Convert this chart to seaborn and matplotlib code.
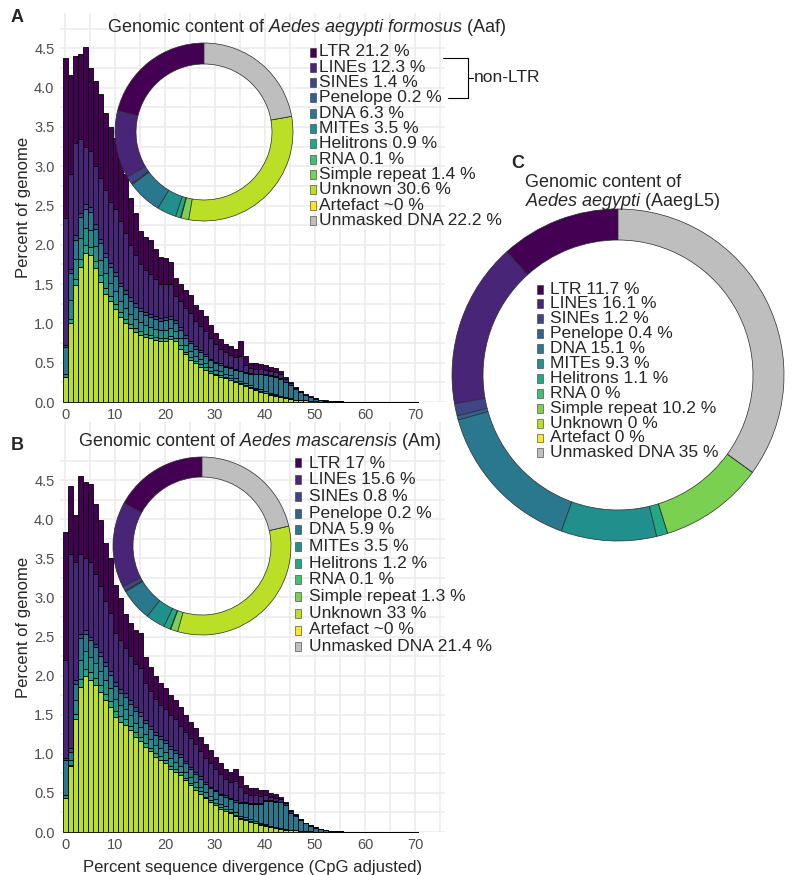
import numpy as np
import pandas as pd
import matplotlib
matplotlib.use("Agg")
import matplotlib.pyplot as plt
from matplotlib.patches import Rectangle
from matplotlib.lines import Line2D
import seaborn as sns

### Data
divergence = list(range(71))

classes = ["LTR", "LINEs", "SINEs", "Penelope", "DNA", "MITEs", "Helitrons",
           "RNA", "Simple repeat", "Unknown", "Artefact", "Unmasked DNA"]
class_colors = ["#440154", "#482576", "#414487", "#35608D", "#2A788E", "#21908C",
                "#22A884", "#43BF71", "#7AD151", "#BBDF27", "#FDE725", "#BEBEBE"]

# genome share (%) per class, donut rings
pct_aaf = [21.2, 12.3, 1.4, 0.2, 6.3, 3.5, 0.9, 0.1, 1.4, 30.6, 0.0, 22.2]
pct_aaf_txt = ["21.2", "12.3", "1.4", "0.2", "6.3", "3.5", "0.9", "0.1", "1.4", "30.6", "~0", "22.2"]
pct_am = [17.0, 15.6, 0.8, 0.2, 5.9, 3.5, 1.2, 0.1, 1.3, 33.0, 0.0, 21.4]
pct_am_txt = ["17", "15.6", "0.8", "0.2", "5.9", "3.5", "1.2", "0.1", "1.3", "33", "~0", "21.4"]
pct_l5 = [11.7, 16.1, 1.2, 0.4, 15.1, 9.3, 1.1, 0.0, 10.2, 0.0, 0.0, 35.0]
pct_l5_txt = ["11.7", "16.1", "1.2", "0.4", "15.1", "9.3", "1.1", "0", "10.2", "0", "0", "35"]

# repeat landscape, Aaf (percent of genome per divergence bin)
unknown_a = [0.32, 1.00, 1.49, 1.72, 1.90, 1.87, 1.70, 1.53, 1.37, 1.28,
             1.18, 1.08, 1.00, 0.94, 0.89, 0.85, 0.83, 0.81, 0.79, 0.77,
             0.78, 0.80, 0.77, 0.68, 0.61, 0.54, 0.49, 0.45, 0.41, 0.37,
             0.34, 0.32, 0.30, 0.28, 0.26, 0.23, 0.20, 0.18, 0.15, 0.13,
             0.11, 0.09, 0.08, 0.06, 0.05, 0.04, 0.03, 0.025, 0.02, 0.012,
             0.008, 0.005, 0.003, 0.002, 0.001, 0.001] + [0.0] * 15
helitron_a = [0.00, 0.05, 0.08, 0.10, 0.10, 0.10, 0.09, 0.08, 0.08, 0.07,
              0.07, 0.06, 0.06, 0.05, 0.05, 0.05, 0.04, 0.04, 0.04, 0.04,
              0.04, 0.04, 0.04, 0.04, 0.03, 0.03, 0.03, 0.03, 0.03, 0.02,
              0.02, 0.02, 0.02, 0.02, 0.01, 0.01, 0.01, 0.01, 0.01, 0.01,
              0.01, 0.01, 0.01] + [0.0] * 28
mites_a = [0.03, 0.25, 0.25, 0.27, 0.22, 0.22, 0.20, 0.20, 0.19, 0.17,
           0.16, 0.15, 0.14, 0.13, 0.12, 0.12, 0.11, 0.10, 0.10, 0.10,
           0.10, 0.10, 0.09, 0.09, 0.08, 0.08, 0.07, 0.07, 0.06, 0.06,
           0.05, 0.05, 0.04, 0.04, 0.04, 0.03, 0.03, 0.02, 0.02, 0.02,
           0.02, 0.01, 0.01, 0.01, 0.01, 0.01] + [0.0] * 25
dna_a = [0.35, 0.34, 0.24, 0.26, 0.24, 0.23, 0.21, 0.21, 0.21, 0.20,
         0.19, 0.18, 0.17, 0.16, 0.15, 0.14, 0.13, 0.13, 0.12, 0.12,
         0.12, 0.12, 0.11, 0.11, 0.10, 0.10, 0.09, 0.09, 0.09, 0.08,
         0.08, 0.08, 0.08, 0.09, 0.10, 0.12, 0.13, 0.15, 0.17, 0.19,
         0.20, 0.22, 0.22, 0.22, 0.20, 0.17, 0.14, 0.10, 0.07, 0.05,
         0.035, 0.02, 0.013, 0.008, 0.007, 0.005, 0.004, 0.004, 0.004, 0.004,
         0.004, 0.003, 0.003, 0.003, 0.003, 0.003, 0.002, 0.002, 0.002, 0.002,
         0.002]
sines_a = [0.02, 0.05, 0.06, 0.06, 0.06, 0.06, 0.06, 0.06, 0.05, 0.05,
           0.05, 0.05, 0.05, 0.05, 0.05, 0.04, 0.04, 0.04, 0.04, 0.04,
           0.04, 0.04, 0.03, 0.03, 0.03, 0.03, 0.03, 0.02, 0.02, 0.02,
           0.02, 0.02, 0.02, 0.01, 0.01, 0.01, 0.01, 0.01, 0.01, 0.01,
           0.01, 0.01, 0.01, 0.01] + [0.0] * 27
lines_a = [1.62, 1.21, 1.18, 0.94, 0.73, 0.72, 0.74, 0.77, 0.80, 0.78,
           0.80, 0.78, 0.73, 0.67, 0.61, 0.55, 0.53, 0.51, 0.47, 0.43,
           0.42, 0.40, 0.31, 0.33, 0.35, 0.35, 0.32, 0.31, 0.29, 0.27,
           0.23, 0.19, 0.17, 0.16, 0.15, 0.18, 0.09, 0.06, 0.06, 0.06,
           0.06, 0.05, 0.05, 0.05, 0.03, 0.02, 0.01, 0.01, 0.005, 0.004,
           0.004, 0.003, 0.002, 0.001, 0.001, 0.001] + [0.0] * 15
ltr_a = [2.04, 1.26, 1.10, 1.08, 1.27, 1.05, 1.08, 1.07, 0.98, 0.95,
         0.91, 0.85, 0.75, 0.60, 0.53, 0.43, 0.42, 0.43, 0.39, 0.35,
         0.33, 0.28, 0.23, 0.22, 0.22, 0.23, 0.20, 0.20, 0.20, 0.16,
         0.14, 0.12, 0.11, 0.11, 0.11, 0.19, 0.11, 0.07, 0.07, 0.06,
         0.06, 0.06, 0.05, 0.04, 0.03, 0.01, 0.01, 0.005, 0.005, 0.004,
         0.003, 0.002, 0.002, 0.001, 0.001, 0.001] + [0.0] * 15

# repeat landscape, Am
unknown_b = [0.43, 0.84, 1.45, 1.86, 1.99, 1.94, 1.88, 1.79, 1.69, 1.60,
             1.47, 1.41, 1.37, 1.30, 1.22, 1.16, 1.09, 1.03, 0.96, 0.92,
             0.88, 0.81, 0.77, 0.73, 0.66, 0.60, 0.54, 0.49, 0.43, 0.39,
             0.35, 0.30, 0.27, 0.24, 0.21, 0.17, 0.15, 0.13, 0.11, 0.09,
             0.077, 0.064, 0.05, 0.04, 0.03, 0.025, 0.02, 0.015, 0.01, 0.008,
             0.005, 0.003, 0.002, 0.001, 0.001] + [0.0] * 16
helitron_b = [0.00, 0.02, 0.06, 0.10, 0.10, 0.10, 0.09, 0.09, 0.08, 0.08,
              0.08, 0.07, 0.07, 0.06, 0.06, 0.06, 0.05, 0.05, 0.05, 0.05,
              0.04, 0.04, 0.04, 0.04, 0.03, 0.03, 0.03, 0.03, 0.02, 0.02,
              0.02, 0.02, 0.02, 0.01, 0.01, 0.01, 0.01, 0.01, 0.01, 0.01,
              0.01] + [0.0] * 30
mites_b = [0.04, 0.06, 0.18, 0.24, 0.22, 0.20, 0.19, 0.18, 0.17, 0.16,
           0.15, 0.14, 0.13, 0.13, 0.12, 0.12, 0.11, 0.11, 0.10, 0.10,
           0.10, 0.09, 0.09, 0.08, 0.08, 0.07, 0.07, 0.06, 0.06, 0.05,
           0.05, 0.04, 0.04, 0.04, 0.03, 0.03, 0.03, 0.02, 0.02, 0.02,
           0.01, 0.01, 0.01, 0.01, 0.01] + [0.0] * 26
dna_b = [0.45, 0.10, 0.20, 0.28, 0.22, 0.21, 0.20, 0.19, 0.18, 0.17,
         0.17, 0.16, 0.16, 0.15, 0.15, 0.14, 0.14, 0.13, 0.13, 0.12,
         0.12, 0.12, 0.11, 0.11, 0.11, 0.10, 0.10, 0.10, 0.10, 0.10,
         0.10, 0.11, 0.12, 0.13, 0.14, 0.16, 0.18, 0.20, 0.22, 0.24,
         0.30, 0.32, 0.33, 0.33, 0.30, 0.22, 0.19, 0.14, 0.10, 0.075,
         0.05, 0.033, 0.02, 0.013, 0.008, 0.007, 0.005, 0.004, 0.004, 0.004,
         0.003, 0.003, 0.003, 0.003, 0.002, 0.002, 0.002, 0.002, 0.002, 0.002,
         0.002]
sines_b = [0.02, 0.05, 0.05, 0.05, 0.05, 0.05, 0.05, 0.05, 0.05, 0.05,
           0.05, 0.05, 0.05, 0.05, 0.05, 0.05, 0.04, 0.04, 0.04, 0.04,
           0.04, 0.04, 0.04, 0.04, 0.03, 0.03, 0.03, 0.03, 0.03, 0.02,
           0.02, 0.02, 0.02, 0.02, 0.02, 0.01, 0.01, 0.01, 0.01, 0.01,
           0.01, 0.01, 0.01, 0.01] + [0.0] * 27
lines_b = [1.26, 2.48, 1.51, 1.02, 0.92, 0.95, 0.89, 0.85, 0.78, 0.74,
           0.63, 0.62, 0.57, 0.56, 0.55, 0.57, 0.47, 0.44, 0.42, 0.40,
           0.39, 0.40, 0.39, 0.36, 0.37, 0.37, 0.35, 0.32, 0.31, 0.30,
           0.27, 0.25, 0.21, 0.20, 0.24, 0.19, 0.12, 0.10, 0.10, 0.09,
           0.06, 0.04, 0.04, 0.03, 0.03, 0.02, 0.01, 0.01, 0.005, 0.004,
           0.003, 0.002, 0.002, 0.001, 0.001] + [0.0] * 16
ltr_b = [1.64, 0.87, 0.60, 1.00, 0.98, 1.00, 0.90, 0.84, 0.74, 0.71,
         0.61, 0.54, 0.44, 0.42, 0.43, 0.45, 0.34, 0.31, 0.29, 0.27,
         0.27, 0.25, 0.25, 0.24, 0.22, 0.21, 0.21, 0.19, 0.18, 0.17,
         0.15, 0.14, 0.13, 0.13, 0.16, 0.14, 0.10, 0.09, 0.09, 0.08,
         0.07, 0.05, 0.05, 0.03, 0.02, 0.015, 0.01, 0.005, 0.005, 0.003,
         0.002, 0.002, 0.002, 0.002, 0.001] + [0.0] * 16

# top of stack first: seaborn puts the last hue level at the bottom
stack_order = ["LTR", "LINEs", "SINEs", "DNA", "MITEs", "Helitrons", "Unknown"]
palette = dict(zip(classes, class_colors))

### Figure setup (pixel helpers)
W, H = 793, 875
sns.set_theme(style="white")
plt.rcParams["font.family"] = ["Liberation Sans", "DejaVu Sans"]
plt.rcParams["mathtext.fontset"] = "custom"
plt.rcParams["mathtext.rm"] = "Liberation Sans"
plt.rcParams["mathtext.it"] = "Liberation Sans:italic"

fig = plt.figure(figsize=(W / 100, H / 100), dpi=100)

def fx(x):
    return x / W

def fy(y):
    return 1 - y / H

FS = 12.5
PANEL_L, PANEL_R = 60, 445


def landscape(ax, layers, ytop):
    rows = []
    for cls, vals in layers.items():
        for d, v in zip(divergence, vals):
            rows.append((d, v, cls))
    df = pd.DataFrame(rows, columns=["div", "pct", "cls"])
    sns.histplot(data=df, x="div", weights="pct", hue="cls", hue_order=stack_order,
                 multiple="stack", discrete=True, palette=palette, alpha=1,
                 edgecolor="black", linewidth=0.6, legend=False, ax=ax)
    for p in ax.patches:
        p.set_clip_on(False)  # keep the baseline outline of the tiny bars
    ax.set_xlim(-1, 76)
    ax.set_ylim(0, ytop)
    ax.set_xticks(range(0, 71, 10))
    ax.set_xticks(range(5, 76, 10), minor=True)
    yt = np.arange(0, 4.51, 0.5)
    ax.set_yticks(yt)
    ax.set_yticklabels([f"{v:.1f}" for v in yt])
    ax.set_yticks(np.arange(0.25, ytop, 0.5), minor=True)
    ax.grid(which="both", color="#EBEBEB", linewidth=1.1)
    ax.set_axisbelow(True)
    sns.despine(ax=ax, left=True, bottom=True)
    ax.tick_params(which="both", length=0, labelsize=10.5, labelcolor="#4D4D4D", pad=4)
    ax.set_xlabel("")
    ax.set_ylabel("Percent of genome", fontsize=12)
    ax.yaxis.set_label_coords((31 - PANEL_L) / (PANEL_R - PANEL_L), 0.5)


def donut(cx, cy, r, w, values):
    s = 2 * r + 6
    ax = fig.add_axes([fx(cx - s / 2), fy(cy + s / 2), s / W, s / H])
    ax.pie(values, colors=class_colors, startangle=90, counterclock=True,
           radius=r / (s / 2),
           wedgeprops=dict(width=w / (s / 2), edgecolor="#2b2b2b", linewidth=0.5))
    ax.set_xlim(-1, 1)
    ax.set_ylim(-1, 1)
    ax.set_axis_off()


def legend_block(x_sq, x_txt, y0, dy, pct_txt):
    for k, (cls, col, t) in enumerate(zip(classes, class_colors, pct_txt)):
        y = y0 + k * dy
        fig.add_artist(Rectangle((fx(x_sq), fy(y + 4.5)), 6 / W, 9 / H,
                                 transform=fig.transFigure, facecolor=col,
                                 edgecolor="#333333", linewidth=0.4))
        fig.text(fx(x_txt), fy(y), f"{cls} {t} %", fontsize=FS, va="center", ha="left")


### Panel A
ax_a = fig.add_axes([fx(PANEL_L), fy(402), (PANEL_R - PANEL_L) / W, (402 - 13) / H])
landscape(ax_a, {"LTR": ltr_a, "LINEs": lines_a, "SINEs": sines_a, "DNA": dna_a,
                 "MITEs": mites_a, "Helitrons": helitron_a, "Unknown": unknown_a}, 4.95)

### Panel B
ax_b = fig.add_axes([fx(PANEL_L), fy(832), (PANEL_R - PANEL_L) / W, (832 - 422) / H])
landscape(ax_b, {"LTR": ltr_b, "LINEs": lines_b, "SINEs": sines_b, "DNA": dna_b,
                 "MITEs": mites_b, "Helitrons": helitron_b, "Unknown": unknown_b},
          (832 - 422) / 78.2)
ax_b.set_xlabel("Percent sequence divergence (CpG adjusted)", fontsize=12, labelpad=6)

### Donuts + legends
donut(204, 132, 89, 21, pct_aaf)
legend_block(310, 319, 52, 15.3, pct_aaf_txt)
fig.text(fx(107), fy(27), r"Genomic content of $\mathit{Aedes\ aegypti\ formosus}$ (Aaf)",
         fontsize=13, va="center", ha="left")

donut(202, 546, 89, 20, pct_am)
legend_block(295, 309, 463, 16.7, pct_am_txt)
fig.text(fx(78), fy(442), r"Genomic content of $\mathit{Aedes\ mascarensis}$ (Am)",
         fontsize=13, va="center", ha="left")

donut(618, 375, 166, 31, pct_l5)
legend_block(537, 550, 289, 14.9, pct_l5_txt)
fig.text(fx(525), fy(183), "Genomic content of", fontsize=13, va="center", ha="left")
fig.text(fx(525), fy(202), r"$\mathit{Aedes\ aegypti}$ (AaegL5)", fontsize=13,
         va="center", ha="left")

# non-LTR bracket
for xs, ys in [([443, 468], [58, 58]), ([468, 468], [58, 98]),
               ([448, 468], [98, 98]), ([468, 473], [78, 78])]:
    fig.add_artist(Line2D([fx(x) for x in xs], [fy(y) for y in ys],
                          transform=fig.transFigure, color="black", linewidth=0.8))
fig.text(fx(474), fy(78), "non-LTR", fontsize=FS, va="center", ha="left")

# panel letters
for lab, x, y in [("A", 17, 17), ("B", 17, 446), ("C", 518, 163)]:
    fig.text(fx(x), fy(y), lab, fontsize=13, fontweight="bold", va="center", ha="center")

fig.savefig("out.png", dpi=100)
